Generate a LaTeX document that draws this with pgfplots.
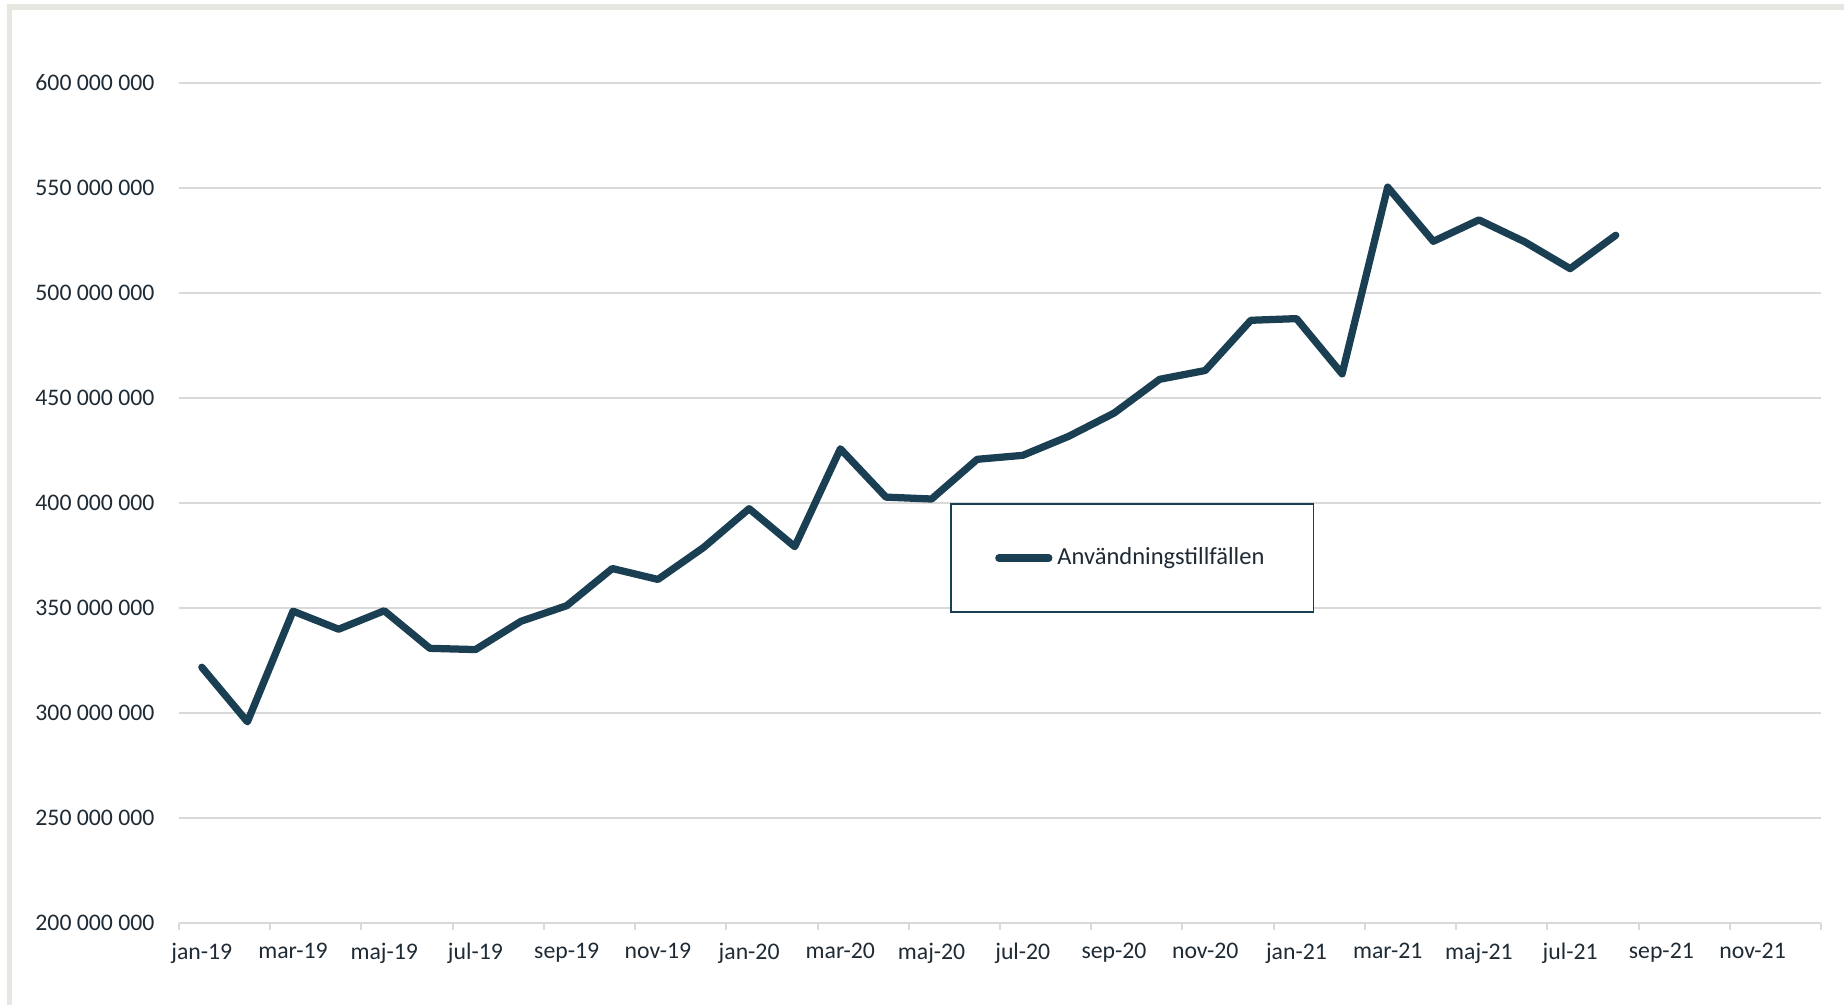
\documentclass[border=0pt]{standalone}
\usepackage{pgfplots}
\pgfplotsset{compat=1.18}
\usepackage{fontspec}
\setmainfont{Carlito}
\definecolor{lineblue}{RGB}{27,63,82}
\definecolor{gridgray}{RGB}{217,217,217}
\definecolor{framegray}{RGB}{232,230,225}
\definecolor{txt}{RGB}{30,42,52}
\begin{document}
\begin{tikzpicture}
\path[use as bounding box] (0,0) rectangle (737.6pt,401.6pt);
\draw[framegray, line width=2.2pt] (3.8pt,-20pt) rectangle (800pt,398.8pt);
\begin{axis}[
  at={(71.6pt,32.4pt)}, anchor=south west,
  width=656.8pt, height=336pt, scale only axis,
  xmin=-0.5, xmax=35.5,
  ymin=200000000, ymax=600000000,
  scaled y ticks=false,
  axis x line*=bottom, axis y line*=left,
  x axis line style={gridgray, line width=0.8pt, -},
  y axis line style={draw=none},
  ymajorgrids, grid style={gridgray, line width=0.8pt},
  major tick length=0pt,
  tick style={gridgray, line width=0.8pt},
  ytick={200000000,250000000,300000000,350000000,400000000,450000000,500000000,550000000,600000000},
  yticklabels={200 000 000,250 000 000,300 000 000,350 000 000,400 000 000,450 000 000,500 000 000,550 000 000,600 000 000},
  yticklabel style={anchor=east, inner sep=0pt, xshift=-9.6pt, font=\fontsize{9.5}{11}\selectfont, text=txt},
  xtick={0,2,...,34},
  xticklabels={jan-19,mar-19,maj-19,jul-19,sep-19,nov-19,jan-20,mar-20,maj-20,jul-20,sep-20,nov-20,jan-21,mar-21,maj-21,jul-21,sep-21,nov-21},
  xticklabel style={anchor=north, inner sep=0pt, yshift=-8pt, font=\fontsize{9.5}{11}\selectfont, text=txt},
  extra x ticks={-0.5,1.5,...,35.5},
  extra x tick labels={},
  extra x tick style={grid=none, tick align=outside, major tick length=2.8pt},
  clip=false,
  legend style={at={(0.5806,0.4345)}, anchor=center, draw=lineblue, line width=0.6pt, fill=white,
    inner xsep=17.6pt, inner ysep=15.5pt, font=\fontsize{9.8}{11}\selectfont, text=txt},
  legend cell align=left,
  legend image code/.code={\draw[#1, line width=2.9pt, line cap=round] (1pt,0pt) -- (21pt,0pt);},
  /tikz/every even column/.append style={column sep=0pt},
]
\addplot[lineblue, line width=2.9pt, line join=round, line cap=round, mark=none] coordinates {
(0,321800000) (1,295800000) (2,348500000) (3,339900000) (4,348700000) (5,330800000)
(6,330200000) (7,343700000) (8,351100000) (9,368800000) (10,363600000) (11,378800000)
(12,397300000) (13,379200000) (14,425800000) (15,402800000) (16,401900000) (17,420800000)
(18,422700000) (19,431700000) (20,442800000) (21,458900000) (22,463100000) (23,487000000)
(24,487800000) (25,461500000) (26,550400000) (27,524600000) (28,534800000) (29,524400000)
(30,511600000) (31,527500000)
};
\addlegendentry{Användningstillfällen}
\end{axis}
\end{tikzpicture}
\end{document}
